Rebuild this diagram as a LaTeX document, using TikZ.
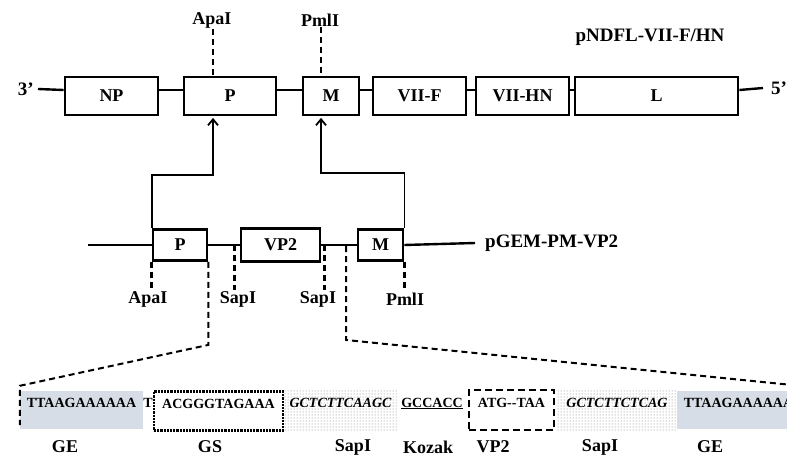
\documentclass[tikz,border=0pt]{standalone}
\usepackage{fontspec}
\setmainfont{Liberation Serif}
\usetikzlibrary{arrows.meta, positioning, calc, patterns}
\definecolor{gegrey}{RGB}{214,221,230}
\definecolor{dotgrey}{RGB}{120,120,120}

\begin{document}
\begin{tikzpicture}[x=1pt, y=-1pt,
  gene/.style={draw, line width=2.8pt, inner sep=0pt, minimum height=38pt, font=\fontsize{18}{18}\selectfont\bfseries},
  smallgene/.style={gene, minimum height=31pt},
  backbone/.style={line width=2.4pt},
  site/.style={line width=2.6pt, dash pattern=on 6pt off 4pt},
  cutline/.style={line width=2pt, dash pattern=on 6pt off 4pt},
  lbl/.style={font=\fontsize{18}{18}\selectfont\bfseries, inner sep=1pt},
  title/.style={font=\fontsize{19}{19}\selectfont\bfseries, inner sep=1pt},
  seq/.style={font=\fontsize{14}{14}\selectfont\bfseries, inner sep=0pt, minimum height=38pt, text height=10pt, text depth=16pt},
  stipple/.style={pattern=dots, pattern color=dotgrey},
  move/.style={line width=1.8pt, shorten >=1.5pt, -{Straight Barb[length=6pt,width=10pt]}}
]
\useasboundingbox (0,0) rectangle (787,457);
\clip (0,0) rectangle (787,457);

% Full-length clone
\node[title] (pndfl) at (650,37) {pNDFL-VII-F/HN};
\node[title, anchor=east, inner xsep=4pt] (three) at (38,89) {3’};
\node[title, anchor=west, inner xsep=8pt] (five) at (763,88) {5’};
\node[gene, minimum width=93pt] (np) at (111.5,96) {NP};
\node[gene, minimum width=92pt] (p) at (230,96) {P};
\node[gene, minimum width=56pt] (m) at (331,96) {M};
\node[gene, minimum width=93pt] (vf) at (419.5,96) {VII-F};
\node[gene, minimum width=93pt] (vhn) at (522.5,96) {VII-HN};
\node[gene, minimum width=163pt] (l) at (656.5,96) {L};
\draw[backbone] (three.east) -- ([yshift=6pt]np.west);
\foreach \a/\b in {np/p, p/m, m/vf, vf/vhn, vhn/l}
  \draw[backbone] ([yshift=6pt]\a.east) -- ([yshift=6pt]\b.west);
\draw[backbone] ([yshift=6pt]l.east) -- (five.west);

% Sites on the full-length clone
\node[lbl] (apatop) at (212,20) {ApaI};
\node[lbl] (pmltop) at (320,20) {PmlI};
\draw[site] ([xshift=1pt]apatop.south) -- ([xshift=1pt]apatop.south |- p.north);
\draw[site] ([xshift=1pt]pmltop.south) -- ([xshift=1pt]pmltop.south |- m.north);

% Transfer vector
\node[title, anchor=west, inner xsep=10pt] (pgem) at (475,243) {pGEM-PM-VP2};
\coordinate (lend) at (88,245);
\node[smallgene, minimum width=54pt] (p2) at (180,245) {P};
\node[smallgene, minimum width=79pt, minimum height=33pt] (vp2) at (280.5,245) {VP2};
\node[smallgene, minimum width=45pt] (m2) at (380.5,245) {M};
\draw[backbone] (lend) -- (p2.west);
\foreach \a/\b in {p2/vp2, vp2/m2}
  \draw[backbone] (\a.east) -- (\b.west);
\draw[backbone] (m2.east) -- (pgem.west);

\draw[move] (p2.north west) -- ++(0,-53) -| ([xshift=1pt]apatop.south |- p.south);
\draw[move] (m2.north east) -- ++(0,-55) -| ([xshift=1pt]pmltop.south |- m.south);

% Sites on the transfer vector
\node[lbl] (apabot) at (148,299) {ApaI};
\node[lbl] (sapa) at (238,299) {SapI};
\node[lbl] (sapb) at (318,299) {SapI};
\node[lbl] (pmlbot) at (405,299) {PmlI};
\draw[site] (p2.south west) -- (p2.south west |- apabot.north);
\draw[site] ([xshift=-5pt]vp2.west) -- ([xshift=-5pt]vp2.west |- sapa.north);
\draw[site] ([xshift=3pt]vp2.east) -- ([xshift=3pt]vp2.east |- sapb.north);
\draw[site] (m2.south east) -- (m2.south east |- pmlbot.north);

% Inserted cassette
\node[seq, fill=gegrey, minimum width=123pt] (ge1) at (81.5,410) {TTAAGAAAAAA};
\node[seq] (t) at (148,410) {T};
\node[seq, draw, densely dotted, line width=2.2pt, minimum width=129pt, minimum height=39pt] (gs) at (218.5,411) {ACGGGTAGAAA};
\node[seq, stipple, minimum width=115pt, minimum height=40pt] (sapx) at (340.5,410) {\itshape GCTCTTCAAGC};
\node[seq] (kozak) at (432,410) {\underline{GCCACC}};
\node[seq, draw, line width=2.2pt, dash pattern=on 7pt off 4pt, minimum width=85pt, minimum height=40pt] (vp2b) at (511.5,410) {ATG-{}-TAA};
\node[seq, stipple, minimum width=120pt, minimum height=40pt] (sapy) at (617,410) {\itshape GCTCTTCTCAG};
\node[seq, fill=gegrey, minimum width=123pt] (ge2) at (738.5,410) {TTAAGAAAAAA};

\coordinate (cutr) at (346,246);
\draw[cutline] (p2.south east) -- ++(0,83) -- ([yshift=5pt]ge1.north west) -- ([yshift=4pt]ge1.south west);
\draw[cutline] (cutr) -- ++(0,94) -- ([yshift=5pt]ge2.north east);

% Element names
\node[lbl] (gea) at (65,447) {GE};
\node[lbl] (gsl) at (210,447) {GS};
\node[lbl] (sapl) at (353,447) {SapI};
\node[lbl] (kozl) at (428,447) {Kozak};
\node[lbl] (vpl) at (493,447) {VP2};
\node[lbl] (sapm) at (600,447) {SapI};
\node[lbl] (geb) at (710,447) {GE};
\end{tikzpicture}
\end{document}
